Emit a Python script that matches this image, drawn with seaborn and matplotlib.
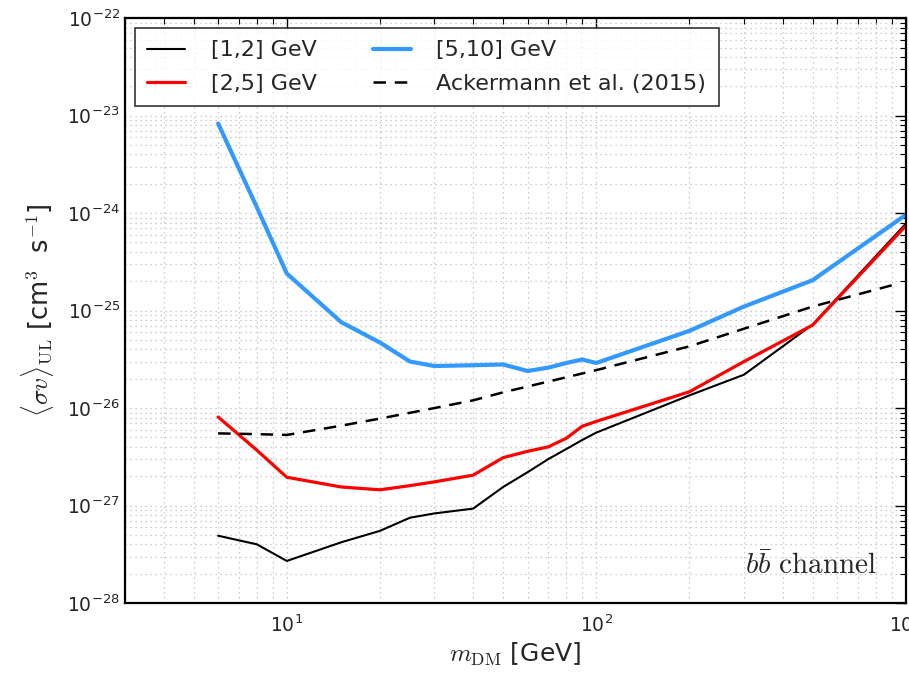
import matplotlib
matplotlib.use("Agg")
import matplotlib.pyplot as plt
import seaborn as sns
import pandas as pd

# Set plot style
sns.set_style("white")
plt.rcParams['font.family'] = ['DejaVu Sans']
plt.rcParams['mathtext.fontset'] = 'cm'
plt.rcParams['axes.unicode_minus'] = False

# DM masses [GeV]
mass = [6, 8, 10, 15, 20, 25, 30, 40, 50, 60, 70, 80, 90, 100, 200, 300, 500, 1000]

# upper limits <sigma v> per energy band
ul_1_2 = [4.9e-28, 4.0e-28, 2.7e-28, 4.2e-28, 5.5e-28, 7.5e-28, 8.3e-28, 9.3e-28, 1.55e-27,
          2.2e-27, 3.0e-27, 3.8e-27, 4.7e-27, 5.6e-27, 1.35e-26, 2.2e-26, 7.2e-26, 7.8e-25]
ul_2_5 = [8.1e-27, 3.7e-27, 1.95e-27, 1.55e-27, 1.45e-27, 1.6e-27, 1.75e-27, 2.05e-27, 3.1e-27,
          3.6e-27, 4.0e-27, 4.9e-27, 6.5e-27, 7.3e-27, 1.47e-26, 3.0e-26, 7.1e-26, 7.4e-25]
ul_5_10 = [8.3e-24, 1.15e-24, 2.4e-25, 7.6e-26, 4.7e-26, 3.0e-26, 2.7e-26, 2.75e-26, 2.8e-26,
           2.4e-26, 2.6e-26, 2.9e-26, 3.15e-26, 2.9e-26, 6.2e-26, 1.1e-25, 2.05e-25, 9.6e-25]

# Ackermann et al. (2015) limit
ack_mass = [6, 8, 10, 15, 20, 30, 40, 50, 100, 200, 500, 920]
ack_ul = [5.5e-27, 5.4e-27, 5.3e-27, 6.6e-27, 7.8e-27, 1.0e-26, 1.2e-26, 1.45e-26,
          2.45e-26, 4.3e-26, 1.1e-25, 1.85e-25]

fig = plt.figure(figsize=(9.09, 6.73), dpi=100)
ax = fig.add_axes([0.1375, 0.104, 0.859, 0.869])

df = pd.DataFrame({'mass': mass, 'b12': ul_1_2, 'b25': ul_2_5, 'b510': ul_5_10})
ack_df = pd.DataFrame({'mass': ack_mass, 'ul': ack_ul})

sns.lineplot(data=df, x='mass', y='b12', ax=ax, color='black', lw=1.5, label='[1,2] GeV')
sns.lineplot(data=df, x='mass', y='b25', ax=ax, color='#ff0000', lw=2.3, label='[2,5] GeV')
sns.lineplot(data=df, x='mass', y='b510', ax=ax, color='#3399ff', lw=3.0, label='[5,10] GeV')
sns.lineplot(data=ack_df, x='mass', y='ul', ax=ax, color='black', lw=1.8,
             linestyle=(0, (5, 3.5)), label='Ackermann et al. (2015)')

ax.set_xscale('log')
ax.set_yscale('log')
ax.set_xlim(3, 1000)
ax.set_ylim(1e-28, 1e-22)

# grid, ticks
ax.grid(True, which='both', linestyle=(0, (1, 3)), color='#bdbdbd', lw=0.9)
ax.tick_params(which='both', direction='in', top=True, right=True, labelsize=13.5, color='black')
ax.tick_params(which='major', length=8, width=1)
ax.tick_params(which='minor', length=4, width=0.8)
ax.tick_params(axis='x', pad=8)
for sp in ax.spines.values():
    sp.set_color('black')
    sp.set_linewidth(1.6)

ax.set_xlabel(r'$m_{\rm DM}$ [GeV]', fontsize=18, labelpad=4)
ax.set_ylabel(r'$\langle \sigma v \rangle_{\rm UL}$ [cm$^3$  s$^{-1}$]', fontsize=18.5, labelpad=8)

ax.text(0.963, 0.05, r'$b\bar{b}\ \mathrm{channel}$', transform=ax.transAxes,
        ha='right', va='baseline', fontsize=21)

leg = ax.legend(loc='upper left', ncol=2, fontsize=16, fancybox=False, frameon=True,
                columnspacing=2.55, handlelength=1.7, handletextpad=1.15,
                labelspacing=0.6, borderpad=0.55, borderaxespad=0.45)
leg.get_frame().set_edgecolor('black')
leg.get_frame().set_linewidth(1.2)

fig.savefig('out.png', dpi=100)
